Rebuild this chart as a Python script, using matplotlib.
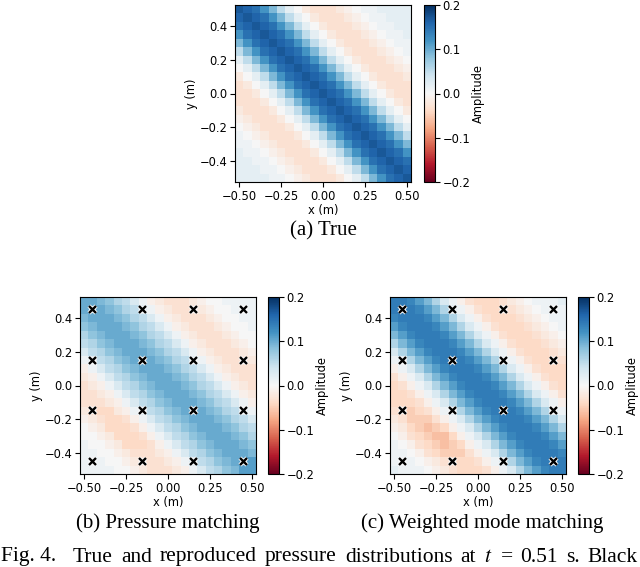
import numpy as np
import matplotlib
matplotlib.use("Agg")
import matplotlib.pyplot as plt
import matplotlib.patheffects as pe

plt.rcParams["font.family"] = ["DejaVu Sans"]
plt.rcParams["mathtext.fontset"] = "stix"

# amplitude grids in units of 0.01, rows from y=0.5 (top) to y=-0.5 (bottom),
# columns from x=-0.5 to x=0.5 (0.05 m spacing)
true_amp = [
    [17, 16, 15, 12, 9, 5, 2, 0, -2, -3, -3, -3, -2, -1, 0, 1, 1, 2, 2, 2, 2],
    [16, 17, 16, 15, 12, 9, 5, 2, 0, -2, -3, -3, -3, -2, -1, 0, 1, 1, 2, 2, 2],
    [15, 16, 17, 16, 15, 12, 9, 5, 2, 0, -2, -3, -3, -3, -2, -1, 0, 1, 1, 2, 2],
    [12, 15, 16, 17, 16, 15, 12, 9, 5, 2, 0, -2, -3, -3, -3, -2, -1, 0, 1, 1, 2],
    [9, 12, 15, 16, 17, 16, 15, 12, 9, 5, 2, 0, -2, -3, -3, -3, -2, -1, 0, 1, 1],
    [5, 9, 12, 15, 16, 17, 16, 15, 12, 9, 5, 2, 0, -2, -3, -3, -3, -2, -1, 0, 1],
    [2, 5, 9, 12, 15, 16, 17, 16, 15, 12, 9, 5, 2, 0, -2, -3, -3, -3, -2, -1, 0],
    [0, 2, 5, 9, 12, 15, 16, 17, 16, 15, 12, 9, 5, 2, 0, -2, -3, -3, -3, -2, -1],
    [-2, 0, 2, 5, 9, 12, 15, 16, 17, 16, 15, 12, 9, 5, 2, 0, -2, -3, -3, -3, -2],
    [-3, -2, 0, 2, 5, 9, 12, 15, 16, 17, 16, 15, 12, 9, 5, 2, 0, -2, -3, -3, -3],
    [-3, -3, -2, 0, 2, 5, 9, 12, 15, 16, 17, 16, 15, 12, 9, 5, 2, 0, -2, -3, -3],
    [-3, -3, -3, -2, 0, 2, 5, 9, 12, 15, 16, 17, 16, 15, 12, 9, 5, 2, 0, -2, -3],
    [-2, -3, -3, -3, -2, 0, 2, 5, 9, 12, 15, 16, 17, 16, 15, 12, 9, 5, 2, 0, -2],
    [-1, -2, -3, -3, -3, -2, 0, 2, 5, 9, 12, 15, 16, 17, 16, 15, 12, 9, 5, 2, 0],
    [0, -1, -2, -3, -3, -3, -2, 0, 2, 5, 9, 12, 15, 16, 17, 16, 15, 12, 9, 5, 2],
    [1, 0, -1, -2, -3, -3, -3, -2, 0, 2, 5, 9, 12, 15, 16, 17, 16, 15, 12, 9, 5],
    [1, 1, 0, -1, -2, -3, -3, -3, -2, 0, 2, 5, 9, 12, 15, 16, 17, 16, 15, 12, 9],
    [2, 1, 1, 0, -1, -2, -3, -3, -3, -2, 0, 2, 5, 9, 12, 15, 16, 17, 16, 15, 12],
    [2, 2, 1, 1, 0, -1, -2, -3, -3, -3, -2, 0, 2, 5, 9, 12, 15, 16, 17, 16, 15],
    [2, 2, 2, 1, 1, 0, -1, -2, -3, -3, -3, -2, 0, 2, 5, 9, 12, 15, 16, 17, 16],
    [2, 2, 2, 2, 1, 1, 0, -1, -2, -3, -3, -3, -2, 0, 2, 5, 9, 12, 15, 16, 17],
]

pm_amp = [
    [10, 10, 9, 8, 6, 5, 3, 1, -1, -2, -3, -3, -3, -2, -1, 0, 0, 1, 1, 1, 1],
    [10, 10, 10, 9, 8, 6, 5, 3, 1, -1, -2, -3, -3, -3, -2, -1, 0, 0, 1, 1, 1],
    [9, 10, 10, 10, 9, 8, 6, 5, 3, 1, -1, -2, -3, -3, -3, -2, -1, 0, 0, 1, 1],
    [8, 9, 10, 10, 10, 9, 8, 6, 5, 3, 1, -1, -2, -3, -3, -3, -2, -1, 0, 0, 1],
    [6, 8, 9, 10, 10, 10, 9, 8, 6, 5, 3, 1, -1, -2, -3, -3, -3, -2, -1, 0, 0],
    [5, 6, 8, 9, 10, 10, 10, 9, 8, 6, 5, 3, 1, -1, -2, -3, -3, -3, -2, -1, 0],
    [3, 5, 6, 8, 9, 10, 10, 10, 9, 8, 6, 5, 3, 1, -1, -2, -3, -3, -3, -2, -1],
    [1, 3, 5, 6, 8, 9, 10, 10, 10, 9, 8, 6, 5, 3, 1, -1, -2, -3, -3, -3, -2],
    [-1, 1, 3, 5, 6, 8, 9, 10, 10, 10, 9, 8, 6, 5, 3, 1, -1, -2, -3, -3, -3],
    [-2, -1, 1, 3, 5, 6, 8, 9, 10, 10, 10, 9, 8, 6, 5, 3, 1, -1, -2, -3, -3],
    [-3, -2, -1, 1, 3, 5, 6, 8, 9, 10, 10, 10, 9, 8, 6, 5, 3, 1, -1, -2, -3],
    [-3, -3, -2, -1, 1, 3, 5, 6, 8, 9, 10, 10, 10, 9, 8, 6, 5, 3, 1, -1, -2],
    [-3, -3, -3, -2, -1, 1, 3, 5, 6, 8, 9, 10, 10, 10, 9, 8, 6, 5, 3, 1, -1],
    [-2, -4, -4, -4, -2, -1, 1, 3, 5, 6, 8, 9, 10, 10, 10, 9, 8, 6, 5, 3, 1],
    [-1, -2, -3, -4, -4, -3, -1, 1, 3, 5, 6, 8, 9, 10, 10, 10, 9, 8, 6, 5, 3],
    [0, -1, -2, -4, -4, -4, -3, -1, 1, 3, 5, 6, 8, 9, 10, 10, 10, 9, 8, 6, 5],
    [0, 0, -1, -2, -4, -4, -4, -3, -1, 1, 3, 5, 6, 8, 9, 10, 10, 10, 9, 8, 6],
    [1, 0, 0, -1, -2, -4, -4, -4, -3, -1, 1, 3, 5, 6, 8, 9, 10, 10, 10, 9, 8],
    [1, 1, 0, 0, -1, -2, -3, -3, -3, -2, -1, 1, 3, 5, 6, 8, 9, 10, 10, 10, 9],
    [1, 1, 1, 0, 0, -1, -2, -3, -3, -3, -2, -1, 1, 3, 5, 6, 8, 9, 10, 11, 11],
    [1, 1, 1, 1, 0, 0, -1, -2, -3, -3, -3, -2, -1, 1, 3, 5, 6, 8, 9, 11, 11],
]

wmm_amp = [
    [14, 14, 13, 11, 9, 6, 3, 1, -1, -3, -4, -4, -4, -3, -2, -1, 0, 1, 1, 1, 2],
    [14, 14, 14, 13, 11, 9, 6, 3, 1, -1, -3, -4, -4, -4, -3, -2, -1, 0, 1, 1, 1],
    [13, 14, 14, 14, 13, 11, 9, 6, 3, 1, -1, -3, -4, -4, -4, -3, -2, -1, 0, 1, 1],
    [11, 13, 14, 14, 14, 13, 11, 9, 6, 3, 1, -1, -3, -4, -4, -4, -3, -2, -1, 0, 1],
    [9, 11, 13, 14, 14, 14, 13, 11, 9, 6, 3, 1, -1, -3, -4, -4, -4, -3, -2, -1, 0],
    [6, 9, 11, 13, 14, 14, 14, 13, 11, 9, 6, 3, 1, -1, -3, -4, -4, -4, -3, -2, -1],
    [3, 6, 9, 11, 13, 14, 14, 14, 13, 11, 9, 6, 3, 1, -1, -3, -4, -4, -4, -3, -2],
    [1, 3, 6, 9, 11, 13, 14, 14, 14, 13, 11, 9, 6, 3, 1, -1, -3, -4, -4, -4, -3],
    [-1, 1, 3, 6, 9, 11, 13, 14, 14, 14, 13, 11, 9, 6, 3, 1, -1, -3, -4, -4, -4],
    [-3, -1, 1, 3, 6, 9, 11, 13, 14, 14, 14, 13, 11, 9, 6, 3, 1, -1, -3, -4, -4],
    [-4, -3, -1, 1, 3, 6, 9, 11, 13, 14, 14, 14, 13, 11, 9, 6, 3, 1, -1, -3, -4],
    [-4, -4, -3, -1, 1, 3, 6, 9, 11, 13, 14, 14, 14, 13, 11, 9, 6, 3, 1, -1, -3],
    [-4, -4, -4, -3, -1, 1, 3, 6, 9, 11, 13, 14, 14, 14, 13, 11, 9, 6, 3, 1, -1],
    [-3, -4, -5, -4, -3, -1, 1, 3, 6, 9, 11, 13, 14, 14, 14, 13, 11, 9, 6, 3, 1],
    [-2, -3, -5, -5, -5, -3, -1, 1, 3, 6, 9, 11, 13, 14, 14, 14, 13, 11, 9, 6, 3],
    [-1, -2, -4, -5, -6, -5, -4, -1, 1, 3, 6, 9, 11, 13, 14, 14, 14, 13, 11, 9, 6],
    [0, -1, -3, -4, -5, -6, -6, -4, -1, 1, 3, 6, 9, 11, 13, 14, 14, 14, 13, 11, 9],
    [1, 0, -1, -3, -4, -5, -6, -5, -4, -1, 1, 3, 6, 9, 11, 13, 14, 14, 14, 13, 11],
    [1, 1, 0, -1, -3, -4, -5, -5, -5, -3, -1, 1, 3, 6, 9, 11, 13, 14, 14, 14, 13],
    [1, 1, 1, 0, -1, -2, -3, -4, -4, -4, -3, -1, 1, 3, 6, 9, 11, 13, 14, 14, 14],
    [2, 1, 1, 1, 0, -1, -2, -3, -4, -4, -4, -3, -1, 1, 3, 6, 9, 11, 13, 14, 14],
]

# microphone positions (m)
mic_x = [-0.45, -0.15, 0.15, 0.45] * 4
mic_y = [0.45] * 4 + [0.15] * 4 + [-0.15] * 4 + [-0.45] * 4

x_ticks = [-0.5, -0.25, 0.0, 0.25, 0.5]
y_ticks = [-0.4, -0.2, 0.0, 0.2, 0.4]
cbar_ticks = [-0.2, -0.1, 0.0, 0.1, 0.2]

caption_words = ["True", "and", "reproduced", "pressure", "distributions",
                 "at", "$t$", "=", "0.51", "s.", "Black"]

W, H = 640, 567
FS = 8.3
CAP_FS = 15.5
fig = plt.figure(figsize=(W / 100, H / 100), dpi=100)


def px(left, top, width, height):
    return [left / W, 1 - (top + height) / H, width / W, height / H]


def fmt(v, nd):
    s = ("%." + str(nd) + "f") % abs(v)
    return s if v >= 0 else "\u2212" + s


def draw_panel(grid, ax_box, cb_box, caption, cap_xy, mics):
    ax = fig.add_axes(px(*ax_box))
    data = np.array(grid) / 100.0
    im = ax.imshow(data, cmap="RdBu", vmin=-0.2, vmax=0.2,
                   extent=[-0.525, 0.525, -0.525, 0.525],
                   origin="upper", interpolation="nearest", aspect="auto")
    if mics:
        ax.plot(mic_x, mic_y, "x", color="k", ms=5, mew=1.7, ls="none",
                path_effects=[pe.withStroke(linewidth=3, foreground="w")])
    ax.set_xticks(x_ticks)
    ax.set_xticklabels([fmt(v, 2) for v in x_ticks])
    ax.set_yticks(y_ticks)
    ax.set_yticklabels([fmt(v, 1) for v in y_ticks])
    ax.tick_params(labelsize=FS, length=3.5, pad=2)
    ax.set_xlabel("x (m)", fontsize=FS, labelpad=1)
    ax.set_ylabel("y (m)", fontsize=FS, labelpad=1)

    cax = fig.add_axes(px(*cb_box))
    cb = fig.colorbar(im, cax=cax, ticks=cbar_ticks)
    cb.ax.set_yticklabels([fmt(v, 1) for v in cbar_ticks])
    cb.ax.tick_params(labelsize=FS, length=3.5, pad=2)
    cb.set_label("Amplitude", fontsize=FS, labelpad=1)

    fig.text(cap_xy[0] / W, 1 - cap_xy[1] / H, caption, ha="center",
             va="center", fontsize=15, family="Liberation Serif")


draw_panel(true_amp, (235, 5, 176, 177), (424, 5, 11, 177),
           "(a) True", (323, 231), False)
draw_panel(pm_amp, (80, 297, 176, 177), (268, 297, 11, 177),
           "(b) Pressure matching", (168, 523), True)
draw_panel(wmm_amp, (390, 297, 176, 177), (578, 297, 11, 177),
           "(c) Weighted mode matching", (482, 523), True)

# justified figure caption line
cap_y = 1 - 557 / H
fig.text(1 / W, cap_y, "Fig. 4.", ha="left", va="center",
         fontsize=CAP_FS, family="Liberation Serif")
renderer = fig.canvas.get_renderer()
word_texts = [fig.text(0, cap_y, w, ha="left", va="center", fontsize=CAP_FS,
                       family="Liberation Serif") for w in caption_words]
widths = [t.get_window_extent(renderer).width for t in word_texts]
x0, x1 = 73.0, 638.0
gap = (x1 - x0 - sum(widths)) / (len(widths) - 1)
xpos = x0
for t, w in zip(word_texts, widths):
    t.set_x(xpos / W)
    xpos += w + gap

fig.savefig("out.png", dpi=100)
